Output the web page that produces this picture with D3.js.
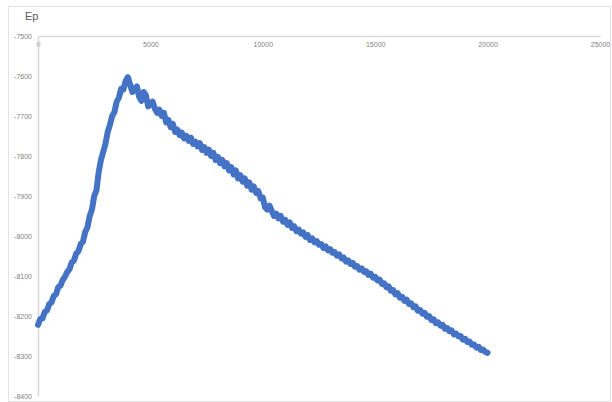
<!DOCTYPE html>
<html>
<head>
<meta charset="utf-8">
<script src="https://cdn.jsdelivr.net/npm/d3@7"></script>
<style>
  html, body { margin: 0; padding: 0; background: #fff; }
  svg { display: block; font-family: "Liberation Sans", "DejaVu Sans", sans-serif; }
  .axis .domain { stroke: #d9d9d9; stroke-width: 1.5; }
  .axis text { fill: #7f7f7f; font-size: 7px; }
</style>
</head>
<body>
<svg id="chart" width="612" height="402"></svg>
<script>
// step data
const stepsX = [
  0, 100, 200, 300, 400, 500, 600, 700, 800, 900,
  1000, 1100, 1200, 1300, 1400, 1500, 1600, 1700, 1800, 1900,
  2000, 2100, 2200, 2300, 2400, 2500, 2600, 2700, 2800, 2900,
  3000, 3100, 3200, 3300, 3400, 3500, 3600, 3700, 3800, 3900,
  4000, 4100, 4200, 4300, 4400, 4500, 4600, 4700, 4800, 4900,
  5000, 5100, 5200, 5300, 5400, 5500, 5600, 5700, 5800, 5900,
  6000, 6100, 6200, 6300, 6400, 6500, 6600, 6700, 6800, 6900,
  7000, 7100, 7200, 7300, 7400, 7500, 7600, 7700, 7800, 7900,
  8000, 8100, 8200, 8300, 8400, 8500, 8600, 8700, 8800, 8900,
  9000, 9100, 9200, 9300, 9400, 9500, 9600, 9700, 9800, 9900,
  10000, 10100, 10200, 10300, 10400, 10500, 10600, 10700, 10800, 10900,
  11000, 11100, 11200, 11300, 11400, 11500, 11600, 11700, 11800, 11900,
  12000, 12100, 12200, 12300, 12400, 12500, 12600, 12700, 12800, 12900,
  13000, 13100, 13200, 13300, 13400, 13500, 13600, 13700, 13800, 13900,
  14000, 14100, 14200, 14300, 14400, 14500, 14600, 14700, 14800, 14900,
  15000, 15100, 15200, 15300, 15400, 15500, 15600, 15700, 15800, 15900,
  16000, 16100, 16200, 16300, 16400, 16500, 16600, 16700, 16800, 16900,
  17000, 17100, 17200, 17300, 17400, 17500, 17600, 17700, 17800, 17900,
  18000, 18100, 18200, 18300, 18400, 18500, 18600, 18700, 18800, 18900,
  19000, 19100, 19200, 19300, 19400, 19500, 19600, 19700, 19800, 19900,
  20000
];
const epValues = [
  -8222, -8208, -8206, -8190, -8186, -8170, -8166, -8150, -8146, -8128,
  -8124, -8110, -8102, -8090, -8083, -8066, -8061, -8044, -8038, -8020,
  -8014, -7990, -7978, -7950, -7934, -7900, -7886, -7840, -7810, -7790,
  -7770, -7740, -7722, -7700, -7690, -7664, -7654, -7632, -7634, -7612,
  -7603, -7622, -7640, -7632, -7626, -7652, -7662, -7640, -7648, -7676,
  -7670, -7664, -7682, -7692, -7684, -7700, -7692, -7716, -7710, -7728,
  -7720, -7740, -7734, -7748, -7742, -7756, -7750, -7762, -7754, -7770,
  -7764, -7776, -7768, -7785, -7778, -7792, -7784, -7800, -7792, -7810,
  -7802, -7818, -7810, -7826, -7818, -7836, -7828, -7846, -7836, -7856,
  -7848, -7864, -7856, -7874, -7866, -7884, -7876, -7892, -7888, -7906,
  -7904, -7928, -7934, -7924, -7938, -7950, -7944, -7956, -7950, -7964,
  -7960, -7972, -7966, -7980, -7976, -7988, -7984, -7994, -7991, -8002,
  -7998, -8010, -8006, -8016, -8013, -8022, -8020, -8030, -8026, -8036,
  -8033, -8042, -8040, -8049, -8046, -8056, -8054, -8064, -8061, -8070,
  -8067, -8077, -8075, -8084, -8081, -8090, -8088, -8097, -8094, -8104,
  -8102, -8111, -8109, -8120, -8118, -8128, -8126, -8137, -8135, -8146,
  -8143, -8154, -8152, -8162, -8159, -8170, -8168, -8178, -8176, -8187,
  -8185, -8194, -8192, -8202, -8200, -8210, -8208, -8218, -8216, -8224,
  -8222, -8232, -8230, -8238, -8236, -8246, -8244, -8251, -8250, -8259,
  -8257, -8265, -8264, -8272, -8271, -8279, -8277, -8285, -8284, -8290,
  -8292
];
const xTicks = [0, 5000, 10000, 15000, 20000, 25000];
const yTicks = [-7500, -7600, -7700, -7800, -7900, -8000, -8100, -8200, -8300, -8400];
const title = "Ep";

const svg = d3.select("#chart");
const points = stepsX.map((x, i) => ({ x, y: epValues[i] }));

const x = d3.scaleLinear().domain([0, 25000]).range([38, 600]);
const y = d3.scaleLinear().domain([-8400, -7500]).range([396, 36]);

// chart border
svg.append("rect")
  .attr("x", 8.5).attr("y", 6.5)
  .attr("width", 602).attr("height", 395)
  .attr("fill", "none")
  .attr("stroke", "#e3e3e3");

svg.append("text")
  .attr("x", 25).attr("y", 20)
  .attr("fill", "#595959")
  .attr("font-size", "11px")
  .text(title);

svg.append("g")
  .attr("class", "axis")
  .attr("transform", `translate(0,${y(-7500)})`)
  .call(d3.axisBottom(x).tickValues(xTicks).tickSize(0).tickPadding(6).tickFormat((d) => String(d)));

svg.append("g")
  .attr("class", "axis")
  .attr("transform", `translate(${x(0)},0)`)
  .call(d3.axisLeft(y).tickValues(yTicks).tickSize(0).tickPadding(6).tickFormat((d) => String(d)));

const line = d3.line().x((d) => x(d.x)).y((d) => y(d.y));

svg.append("path")
  .datum(points)
  .attr("fill", "none")
  .attr("stroke", "#4472c4")
  .attr("stroke-width", 6)
  .attr("stroke-linejoin", "round")
  .attr("stroke-linecap", "round")
  .attr("d", line);
</script>
</body>
</html>
